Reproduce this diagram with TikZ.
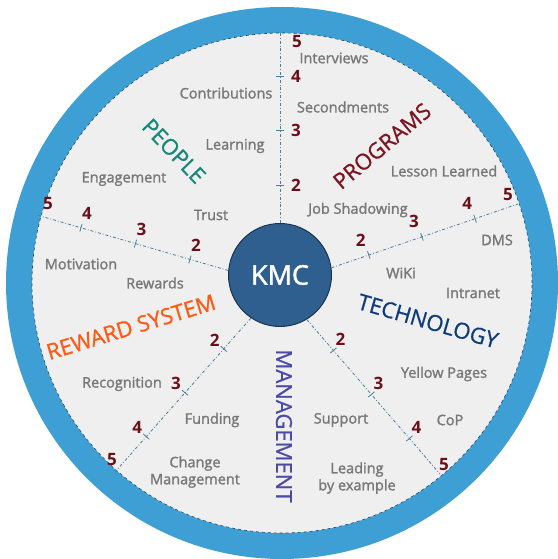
\documentclass[tikz,border=0pt]{standalone}
\usepackage{fontspec}
\setmainfont{Open Sans}
\newfontfamily\itemfont[FakeBold=1.6]{Open Sans}
\newfontfamily\catfont[FakeBold=0.8]{Open Sans}
\usetikzlibrary{calc}
\definecolor{ringblue}{HTML}{3E9FD4}
\definecolor{discgray}{HTML}{EFEFEF}
\definecolor{hubblue}{HTML}{2F5F8F}
\definecolor{raycol}{HTML}{4A7E9A}
\definecolor{numred}{HTML}{6B1018}
\definecolor{itemgray}{HTML}{787878}
\definecolor{peoplecol}{HTML}{17877A}
\definecolor{progcol}{HTML}{7D1420}
\definecolor{techcol}{HTML}{0E3B7E}
\definecolor{mgmtcol}{HTML}{4B4BA6}
\definecolor{rewardcol}{HTML}{FF5A12}

\begin{document}
\begin{tikzpicture}[
                x=1pt, y=1pt,
                hub/.style={circle, draw=hubblue!55!black, line width=1pt, fill=hubblue, minimum size=103pt, inner sep=0pt, text=white, font=\itemfont\fontsize{27}{30}\selectfont},
                item/.style={text=itemgray, font=\itemfont\fontsize{14.5}{17}\selectfont, align=center, inner sep=1pt},
                cat/.style={font=\catfont\fontsize{22}{26}\selectfont, inner sep=1pt},
                num/.style={text=numred, font=\bfseries\fontsize{17}{19}\selectfont, inner sep=0pt},
                ray/.style={draw=raycol, line width=0.8pt, dash dot},
                tick/.style={draw=raycol, line width=0.8pt},
            ]
            \useasboundingbox (-280,-284) rectangle (277,275);

            % ----- Wheel -----
            \fill[ringblue] (2,-8) circle (276);
            \draw[fill=discgray, draw=hubblue!70!black, line width=0.6pt, dashed] (2,-8) circle (250);

            \node[hub] (kmc) at (0,0) {KMC};

            % ray ends on the rim
            \coordinate (e1) at (0,242);
            \coordinate (e2) at (-243,60);
            \coordinate (e3) at (238,71);
            \coordinate (e4) at (-165,-197);
            \coordinate (e5) at (160,-199);

            % rays with ticks 2,3,4 and the 5 at the rim
            \foreach \i/\a/\ox/\oy/\px/\py in {1/90/16/0/17/-9, 2/175/6/14/11/11, 3/8/-8/15/-10/9, 4/236/-9/9/-3/12, 5/301/7/11/4/9} {
                \draw[ray] (kmc.\a) -- (e\i);
                \foreach \n/\f in {2/0.2,3/0.485,4/0.77} {
                    \coordinate (t\i\n) at ($(kmc.\a)!\f!(e\i)$);
                    \draw[tick] ($(t\i\n)!4pt!90:(e\i)$) -- ($(t\i\n)!4pt!-90:(e\i)$);
                    \node[num] (n\i\n) at ($(t\i\n)+(\ox,\oy)$) {\n};
                }
                \node[num] (n\i5) at ($(e\i)+(\px,\py)$) {5};
            }

            % ----- Categories -----
            \node[cat, text=peoplecol, rotate=-46] (people) at (-106,124) {PEOPLE};
            \node[cat, text=progcol, rotate=40] (programs) at (102,129) {PROGRAMS};
            \node[cat, text=techcol, rotate=-16] (technology) at (148,-46) {TECHNOLOGY};
            \node[cat, text=mgmtcol, rotate=-90] (management) at (4,-151) {MANAGEMENT};
            \node[cat, text=rewardcol, rotate=17] (reward) at (-149,-52) {REWARD SYSTEM};

            % ----- Items -----
            \node[item] (interviews) at (54,217) {Interviews};
            \node[item] (contrib) at (-54,182) {Contributions};
            \node[item] (second) at (63,168) {Secondments};
            \node[item] (learning) at (-45,129) {Learning};
            \node[item] (engage) at (-156,96) {Engagement};
            \node[item] (lesson) at (164,104) {Lesson Learned};
            \node[item] (trust) at (-69,60) {Trust};
            \node[item] (jobshadow) at (78,65) {Job Shadowing};
            \node[item] (dms) at (217,35) {DMS};
            \node[item] (motiv) at (-199,11) {Motivation};
            \node[item] (rewards) at (-125,-8) {Rewards};
            \node[item] (wiki) at (121,2) {WiKi};
            \node[item] (intranet) at (193,-18) {Intranet};
            \node[item] (recog) at (-158,-109) {Recognition};
            \node[item] (yellow) at (164,-99) {Yellow Pages};
            \node[item] (funding) at (-68,-145) {Funding};
            \node[item] (support) at (61,-145) {Support};
            \node[item] (cop) at (170,-145) {CoP};
            \node[item] (change) at (-85,-197) {Change\\Management};
            \node[item] (leading) at (77,-203) {Leading\\by example};

\end{tikzpicture}
\end{document}
